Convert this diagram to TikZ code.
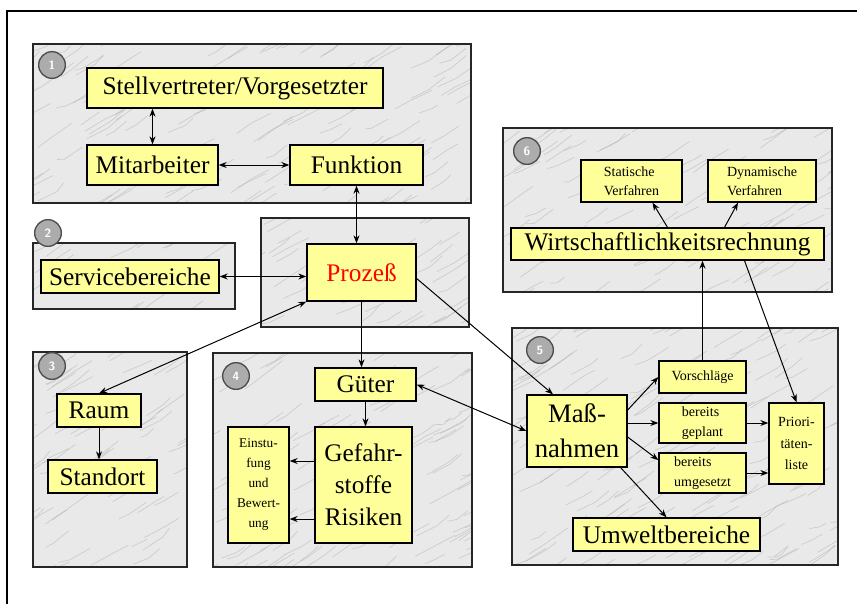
\documentclass[tikz,border=0pt]{standalone}
\usepackage{fontspec}
\setmainfont{Liberation Serif}
\usetikzlibrary{arrows.meta,calc}

\definecolor{boxyellow}{RGB}{255,255,153}
\definecolor{prozessred}{RGB}{255,0,0}
\definecolor{marblebase}{RGB}{233,233,233}

\tikzset{every picture/.style={line width=0.75pt},
  box/.style={draw=black, fill=boxyellow, line width=1pt, inner sep=0pt, align=center,
    font=\fontsize{19}{24}\selectfont},
  smallbox/.style={box, align=left, font=\fontsize{10.5}{14.5}\selectfont},
  tinybox/.style={box, font=\fontsize{10}{15}\selectfont},
  panel/.style={draw=black!85, line width=1.2pt},
  streak/.style={draw=gray!75, line width=0.5pt, opacity=0.4},
  numdot/.style={circle, fill=gray!65, draw=black!70, line width=1pt, minimum size=20pt,
    inner sep=0pt, text=white, font=\sffamily\bfseries\small},
  link/.style={-{Stealth[length=6pt,width=4.5pt]}},
  dlink/.style={{Stealth[length=6pt,width=4.5pt]}-{Stealth[length=6pt,width=4.5pt]}}
}

% marble panel: x1,y1,x2,y2 in picture units
\newcommand{\marblepanel}[4]{%
  \fill[marblebase] (#1,#2) rectangle (#3,#4);
  \begin{scope}
    \clip (#1,#2) rectangle (#3,#4);
    \pgfmathtruncatemacro{\nstreak}{((#3-#1)/22)*((#4-#2)/22)}
    \foreach \k in {1,...,\nstreak}{
      \pgfmathsetmacro{\sx}{#1-25+rnd*(#3-#1+25)}
      \pgfmathsetmacro{\sy}{#2+rnd*(#4-#2+25)}
      \pgfmathsetmacro{\la}{6+rnd*16}
      \pgfmathsetmacro{\lb}{6+rnd*16}
      \pgfmathsetmacro{\da}{-0.75*\la+rnd*6}
      \pgfmathsetmacro{\db}{-0.45*\lb-rnd*6}
      \draw[streak] (\sx,\sy) -- ++(\la,\da) -- ++(\lb,\db);
    }
  \end{scope}
  \draw[panel] (#1,#2) rectangle (#3,#4);}

\begin{document}
\begin{tikzpicture}[x=0.75pt,y=0.75pt,yscale=-1,xscale=1]
\useasboundingbox (0,0) rectangle (857,604);
\pgfmathsetseed{17}

%Straight Lines [outer frame]
\draw [line width=1pt] (7,604) -- (7,11) -- (857,11) ;

%Shape: Rectangle [panels]
\marblepanel{33}{44}{471}{203}
\marblepanel{33}{243}{235}{309}
\marblepanel{261}{218}{469}{327}
\marblepanel{33}{352}{187}{567}
\marblepanel{213}{353}{472}{567}
\marblepanel{512}{328}{838}{565}
\marblepanel{503}{128}{832}{292}

% Number circles
\node [numdot] (n1) at (52,65) {1};
\node [numdot] (n2) at (48,233) {2};
\node [numdot] (n3) at (52,366) {3};
\node [numdot] (n4) at (236,376) {4};
\node [numdot] (n5) at (540,350) {5};
\node [numdot] (n6) at (527,151) {6};

% Text Node
\node [box, minimum width=222pt, minimum height=30pt] (stell) at (235,88) {Stellvertreter/Vorgesetzter};
\node [box, minimum width=98.25pt, minimum height=30pt] (mitarb) at (152.5,165) {Mitarbeiter};
\node [box, minimum width=99.75pt, minimum height=30pt] (funktion) at (356.5,165) {Funktion};
\node [box, minimum width=133.5pt, minimum height=24.75pt] (service) at (130,276.5) {Servicebereiche};
\node [box, minimum width=81.75pt, minimum height=42.75pt, text=prozessred] (prozess) at (361.5,272.5) {Prozeß};
\node [box, minimum width=63pt, minimum height=24.75pt] (raum) at (99,410.5) {Raum};
\node [box, minimum width=81.75pt, minimum height=24.75pt] (standort) at (102.5,476.5) {Standort};
\node [box, minimum width=75.75pt, minimum height=24.75pt] (gueter) at (365.5,384.5) {Güter};
\node [box, minimum width=72.75pt, minimum height=87pt] (gefahr) at (363.5,485) {Gefahr-\\stoffe\\Risiken};
\node [tinybox, minimum width=45.75pt, minimum height=87pt] (einst) at (258.5,485) {Einstu-\\fung\\und\\Bewert-\\ung};
\node [box, minimum width=75pt, minimum height=54pt, font=\fontsize{20}{26}\selectfont] (mass) at (577,431) {Maß-\\nahmen};
\node [smallbox, minimum width=65.25pt, minimum height=24pt] (vorschl) at (702.5,377) {Vorschläge};
\node [smallbox, minimum width=65.25pt, minimum height=30pt] (geplant) at (702.5,423) {bereits\\geplant};
\node [smallbox, minimum width=65.25pt, minimum height=30pt] (umgesetzt) at (702.5,473) {bereits\\umgesetzt};
\node [tinybox, minimum width=41.25pt, minimum height=60.75pt, font=\fontsize{10.5}{16}\selectfont] (prior) at (796.5,443.5) {Priori-\\täten-\\liste};
\node [box, minimum width=140.25pt, minimum height=24.75pt] (umwelt) at (666.5,534.5) {Umweltbereiche};
\node [smallbox, minimum width=75.75pt, minimum height=31.5pt] (statisch) at (631.5,181) {Statische\\Verfahren};
\node [smallbox, minimum width=81pt, minimum height=31.5pt] (dynamisch) at (762,181) {Dynamische\\Verfahren};
\node [box, minimum width=234.75pt, minimum height=24pt] (wirt) at (667.5,244) {Wirtschaftlichkeitsrechnung};

%Straight Lines
\draw [dlink] (mitarb.north) -- (mitarb.north |- stell.south) ;
\draw [dlink] (mitarb.east) -- (funktion.west) ;
\draw [dlink] (funktion.south) -- (funktion.south |- prozess.north) ;
\draw [dlink] (service.east) -- (service.east -| prozess.west) ;
\draw [dlink] (prozess.south west) -- (raum.north) ;
\draw [link] (raum.south) -- (raum.south |- standort.north) ;
\draw [link] (prozess.south) -- (prozess.south |- gueter.north) ;
\draw [link] (gueter.south) -- (gueter.south |- gefahr.north) ;
\draw [link] ($(gefahr.west)+(0,-24)$) -- ($(einst.east)+(0,-24)$) ;
\draw [link] ($(gefahr.west)+(0,34)$) -- ($(einst.east)+(0,34)$) ;
\draw [link] ($(prozess.east)+(0,6)$) -- ($(mass.north)+(-24,0)$) ;
\draw [dlink] (gueter.east) -- (mass.west) ;
\draw [link] ($(mass.east)+(0,-21)$) -- (vorschl.west) ;
\draw [link] (geplant.west -| mass.east) -- (geplant.west) ;
\draw [link] ($(mass.east)+(0,6)$) -- ($(umgesetzt.west)+(0,-13)$) ;
\draw [link] ($(mass.south east)+(-7,0)$) -- (umwelt.north) ;
\draw [link] (geplant.east) -- (geplant.east -| prior.west) ;
\draw [link] (umgesetzt.east) -- (umgesetzt.east -| prior.west) ;
\draw [link] (vorschl.north) -- (vorschl.north |- wirt.south) ;
\draw [link] ($(wirt.south)+(77,0)$) -- (prior.north) ;
\draw [link] (wirt.north) -- ($(statisch.south)+(21,0)$) ;
\draw [link] ($(wirt.north)+(57,0)$) -- ($(dynamisch.south)+(-24,0)$) ;

\end{tikzpicture}
\end{document}
